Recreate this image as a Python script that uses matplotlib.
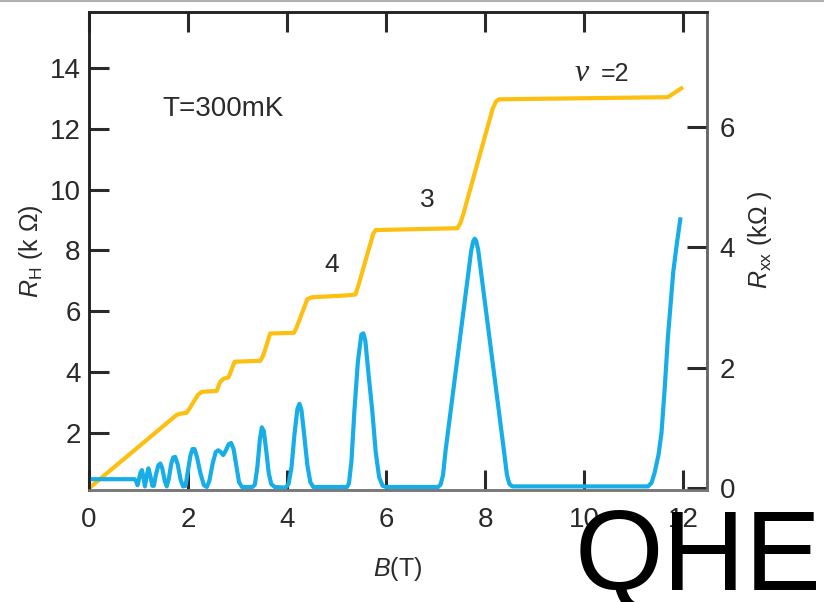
import matplotlib
matplotlib.use("Agg")
import matplotlib.pyplot as plt
from matplotlib.lines import Line2D

plt.rcParams['font.family'] = ['Liberation Sans', 'DejaVu Sans']
plt.rcParams['mathtext.fontset'] = 'custom'
plt.rcParams['mathtext.rm'] = 'Liberation Sans'
plt.rcParams['mathtext.it'] = 'Liberation Sans:italic'

# Hall resistance R_H (kOhm) vs B (T)
b_hall = [0.0, 1.77, 1.84, 1.97, 2.03, 2.20, 2.28, 2.58, 2.65, 2.72, 2.82, 2.94,
          3.46, 3.52, 3.66, 4.14, 4.20, 4.41, 4.50, 5.20, 5.38, 5.45, 5.74, 5.79,
          7.44, 7.50, 7.56, 8.15, 8.22, 8.28, 11.69, 11.96]
r_hall = [0.18, 2.59, 2.63, 2.66, 2.80, 3.25, 3.35, 3.38, 3.68, 3.78, 3.83, 4.34,
          4.37, 4.55, 5.27, 5.29, 5.50, 6.40, 6.46, 6.52, 6.55, 6.90, 8.55, 8.67,
          8.73, 8.90, 9.20, 12.65, 12.90, 12.97, 13.04, 13.33]

# longitudinal resistance R_xx (kOhm) vs B (T)
b_xx = [0.00, 0.92, 0.95, 0.98, 1.01, 1.04, 1.07, 1.10, 1.13, 1.16, 1.20, 1.24,
        1.28, 1.31, 1.35, 1.40, 1.44, 1.48, 1.53, 1.57, 1.61, 1.66, 1.70, 1.74,
        1.79, 1.85, 1.90, 1.95, 2.00, 2.05, 2.09, 2.13, 2.18, 2.25, 2.32, 2.38,
        2.43, 2.50, 2.56, 2.61, 2.66, 2.71, 2.76, 2.82, 2.87, 2.92, 2.98, 3.03,
        3.09, 3.30, 3.35, 3.40, 3.45, 3.49, 3.53, 3.58, 3.63, 3.68, 3.75, 3.97,
        4.03, 4.09, 4.15, 4.21, 4.25, 4.29, 4.35, 4.41, 4.47, 4.53, 5.21, 5.25,
        5.30, 5.36, 5.43, 5.50, 5.54, 5.58, 5.65, 5.72, 5.79, 5.86, 5.93, 6.00,
        7.05, 7.10, 7.15, 7.20, 7.72, 7.76, 7.79, 7.82, 7.86, 8.38, 8.44, 8.49,
        8.55, 11.29, 11.36, 11.42, 11.50, 11.56, 11.63, 11.69, 11.75, 11.80,
        11.87, 11.94]
r_xx = [0.15, 0.15, 0.12, 0.05, 0.15, 0.26, 0.30, 0.18, 0.03, 0.18, 0.33, 0.20,
        0.04, 0.04, 0.22, 0.38, 0.41, 0.33, 0.12, 0.03, 0.15, 0.40, 0.51, 0.52,
        0.40, 0.14, 0.03, 0.04, 0.30, 0.55, 0.65, 0.65, 0.52, 0.25, 0.05, 0.02,
        0.12, 0.42, 0.60, 0.63, 0.60, 0.55, 0.62, 0.73, 0.75, 0.65, 0.35, 0.10,
        0.02, 0.02, 0.06, 0.35, 0.80, 1.01, 0.95, 0.62, 0.25, 0.07, 0.02, 0.01,
        0.07, 0.35, 0.90, 1.32, 1.40, 1.30, 0.85, 0.38, 0.10, 0.02, 0.02, 0.08,
        0.45, 1.29, 2.10, 2.55, 2.57, 2.45, 1.85, 1.29, 0.60, 0.18, 0.04, 0.02,
        0.02, 0.06, 0.22, 0.62, 3.95, 4.10, 4.14, 4.10, 3.95, 0.62, 0.22, 0.07,
        0.03, 0.03, 0.09, 0.25, 0.55, 0.91, 1.70, 2.50, 3.10, 3.60,
        4.05, 4.46]

x_ticks = [0, 2, 4, 6, 8, 10, 12]
left_ticks = [2, 4, 6, 8, 10, 12, 14]
right_ticks = [0, 2, 4, 6]

yellow = '#FDC010'
blue = '#16ADE8'
dark = '#2a2a2a'

fig = plt.figure(figsize=(8.24, 6.02), dpi=100)
ax = fig.add_axes([0.108, 0.186, 0.750, 0.794])
ax2 = ax.twinx()

ax.plot(b_hall, r_hall, color=yellow, lw=3.0, solid_joinstyle='round')
ax2.plot(b_xx, r_xx, color=blue, lw=3.0, solid_joinstyle='round')

ax.set_xlim(0, 12.48)
ax.set_ylim(0.12, 15.84)
ax2.set_ylim(-0.03, 7.90)

ax.set_xticks(x_ticks)
ax.set_yticks(left_ticks)
ax2.set_yticks(right_ticks)

ax.tick_params(axis='both', direction='in', length=14.5, width=2.2, color=dark,
               labelsize=20, labelcolor=dark, top=True, right=False)
ax.tick_params(axis='y', pad=6)
ax.tick_params(axis='x', pad=12)
ax2.tick_params(axis='y', direction='in', length=14.5, width=2.2, color=dark,
                labelsize=20, labelcolor=dark, pad=9)

for a in (ax, ax2):
    a.spines['left'].set_color('#222222')
    a.spines['top'].set_color('#222222')
    a.spines['bottom'].set_color('#777777')
    a.spines['right'].set_color('#666666')
    for s in a.spines.values():
        s.set_linewidth(1.8)

ax.set_xlabel(r'$\mathit{B}$(T)', fontsize=18, color=dark)
ax.xaxis.set_label_coords(0.5, -0.135)
ax.set_ylabel(r'$\mathit{R}_\mathrm{H}$ (k $\Omega$)', fontsize=18, color=dark)
ax.yaxis.set_label_coords(-0.071, 0.5)
ax2.set_ylabel(r'$\mathit{R}_\mathrm{xx}$ (k$\Omega$ )', fontsize=18, color=dark)
ax2.yaxis.set_label_coords(1.063, 0.523)

ax.text(1.48, 12.42, 'T=300mK', fontsize=20, color=dark, va='baseline')
ax.text(4.91, 7.52, '4', fontsize=19, color=dark, ha='center', va='center')
ax.text(6.84, 9.66, '3', fontsize=19, color=dark, ha='center', va='center')
ax.text(9.80, 13.57, 'ν', fontsize=23, color=dark, va='baseline',
        family='Liberation Serif', style='italic')
ax.text(10.34, 13.57, '=2', fontsize=18, color=dark, va='baseline')

fig.text(822 / 824, 1 - 590 / 602, 'QHE', fontsize=82, color='black',
         ha='right', va='baseline', family='Liberation Sans')
fig.add_artist(Line2D([0, 1], [0.998, 0.998], color='#b0b0b0', lw=1.5))

fig.savefig('out.png', dpi=100)
